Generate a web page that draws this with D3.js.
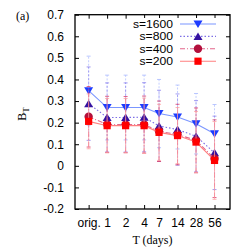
<!DOCTYPE html>
<html>
<head>
<meta charset="utf-8">
<script src="https://cdn.jsdelivr.net/npm/d3@7"></script>
<style>
    html, body { margin: 0; padding: 0; background: #ffffff; }
    svg { display: block; }
</style>
</head>
<body>
<div id="chart"></div>
<script>
(function () {
    "use strict";

    // data
    const days = [0.5, 1, 2, 4, 7, 14, 28, 56];
    const dayLabels = ["orig.", "1", "2", "4", "7", "14", "28", "56"];
    const yTicks = [-0.2, -0.1, 0, 0.1, 0.2, 0.3, 0.4, 0.5, 0.6, 0.7];

    const seriesNames = ["s=1600", "s=800", "s=400", "s=200"];
    const s1600 = [0.348, 0.270, 0.270, 0.270, 0.242, 0.226, 0.195, 0.149];
    const s800 = [0.288, 0.224, 0.224, 0.225, 0.185, 0.168, 0.137, 0.060];
    const s400 = [0.227, 0.192, 0.191, 0.191, 0.160, 0.145, 0.118, 0.033];
    const s200 = [0.206, 0.186, 0.186, 0.186, 0.155, 0.140, 0.110, 0.025];
    const e1600 = [0.160, 0.150, 0.150, 0.150, 0.158, 0.148, 0.140, 0.135];
    const e800 = [0.170, 0.160, 0.160, 0.160, 0.165, 0.165, 0.165, 0.170];
    const e400 = [0.140, 0.130, 0.130, 0.132, 0.140, 0.140, 0.150, 0.180];
    const e200 = [0.127, 0.126, 0.126, 0.128, 0.130, 0.130, 0.142, 0.180];

    const styles = [
        { line: "#7b96ff", mark: "#1d3cff", dash: null, errDash: "2,1.5", shape: "down", err: "#a9b9ff" },
        { line: "#7d6fe6", mark: "#3512a0", dash: "1.5,2", errDash: "2,2", shape: "up", err: "#8f84ee" },
        { line: "#e3668a", mark: "#b3103c", dash: "5,2,1,2", errDash: "5,2,1,2", shape: "circle", err: "#d9406e" },
        { line: "#ff7f7f", mark: "#ff0000", dash: null, errDash: null, shape: "square", err: "#ffa0a0" }
    ];

    const values = [s1600, s800, s400, s200];
    const errors = [e1600, e800, e400, e200];

    const width = 249;
    const height = 249;
    const margin = { top: 14.7, right: 19, bottom: 40, left: 75 };

    const x = d3.scaleLog()
        .domain([0.3, 100])
        .range([margin.left, width - margin.right]);

    const y = d3.scaleLinear()
        .domain([-0.2, 0.7])
        .range([height - margin.bottom, margin.top]);

    const svg = d3.select("#chart")
        .append("svg")
        .attr("width", width)
        .attr("height", height)
        .style("font-family", "'Liberation Sans', Arial, sans-serif");

    const fmt = (d) => (Math.abs(d) < 1e-9 ? "0" : d.toFixed(1));
    const tick = 4;

    // frame axes, ticks inward and mirrored
    svg.append("g")
        .attr("transform", `translate(0,${y.range()[0]})`)
        .call(d3.axisBottom(x).tickValues(days).tickFormat((d, i) => dayLabels[i]).tickSizeInner(-tick).tickSizeOuter(0).tickPadding(9))
        .call((g) => g.select(".domain").remove())
        .call((g) => g.selectAll("text").attr("font-size", 12).attr("fill", "#000").attr("font-family", null));

    svg.append("g")
        .attr("transform", `translate(0,${y.range()[1]})`)
        .call(d3.axisTop(x).tickValues(days).tickFormat("").tickSizeInner(-tick).tickSizeOuter(0))
        .call((g) => g.select(".domain").remove());

    svg.append("g")
        .attr("transform", `translate(${x.range()[0]},0)`)
        .call(d3.axisLeft(y).tickValues(yTicks).tickFormat(fmt).tickSizeInner(-tick).tickSizeOuter(0).tickPadding(11))
        .call((g) => g.select(".domain").remove())
        .call((g) => g.selectAll("text").attr("font-size", 12).attr("fill", "#000").attr("font-family", null));

    svg.append("g")
        .attr("transform", `translate(${x.range()[1]},0)`)
        .call(d3.axisRight(y).tickValues(yTicks).tickFormat("").tickSizeInner(-tick).tickSizeOuter(0))
        .call((g) => g.select(".domain").remove());

    svg.selectAll(".tick line").attr("stroke", "#000").attr("stroke-width", 1);

    svg.append("rect")
        .attr("x", x.range()[0])
        .attr("y", y.range()[1])
        .attr("width", x.range()[1] - x.range()[0])
        .attr("height", y.range()[0] - y.range()[1])
        .attr("fill", "none")
        .attr("stroke", "#000")
        .attr("stroke-width", 1.3);

    const line = d3.line()
        .x((d) => x(d.day))
        .y((d) => y(d.v));

    function marker(g, shape, color, cx, cy) {
        if (shape === "down") {
            g.append("path").attr("d", `M${cx - 4.5},${cy - 3.5}L${cx + 4.5},${cy - 3.5}L${cx},${cy + 4}Z`).attr("fill", color);
        } else if (shape === "up") {
            g.append("path").attr("d", `M${cx - 4.5},${cy + 3.5}L${cx + 4.5},${cy + 3.5}L${cx},${cy - 4}Z`).attr("fill", color);
        } else if (shape === "circle") {
            g.append("circle").attr("cx", cx).attr("cy", cy).attr("r", 4.2).attr("fill", color);
        } else {
            g.append("rect").attr("x", cx - 3.6).attr("y", cy - 3.6).attr("width", 7.2).attr("height", 7.2).attr("fill", color);
        }
    }

    const plot = svg.append("g");

    values.forEach((vals, k) => {
        const st = styles[k];
        const pts = vals.map((v, i) => ({ day: days[i], v: v, e: errors[k][i] }));
        const g = plot.append("g");

        pts.forEach((p) => {
            const cx = x(p.day);
            g.append("line")
                .attr("x1", cx).attr("x2", cx)
                .attr("y1", y(p.v - p.e)).attr("y2", y(p.v + p.e))
                .attr("stroke", st.err)
                .attr("stroke-opacity", 0.7)
                .attr("stroke-dasharray", st.errDash)
                .attr("stroke-width", 1);
            [p.v - p.e, p.v + p.e].forEach((end) => {
                g.append("line")
                    .attr("x1", cx - 2).attr("x2", cx + 2)
                    .attr("y1", y(end)).attr("y2", y(end))
                    .attr("stroke", st.err)
                    .attr("stroke-opacity", 0.8)
                    .attr("stroke-width", 1);
            });
        });

        g.append("path")
            .datum(pts)
            .attr("d", line)
            .attr("fill", "none")
            .attr("stroke", st.line)
            .attr("stroke-width", 1.1)
            .attr("stroke-dasharray", st.dash);

        pts.forEach((p) => marker(g, st.shape, st.mark, x(p.day), y(p.v)));
    });

    // legend
    const legendY = [24, 36.4, 48.8, 61.2];
    const legend = svg.append("g");
    seriesNames.forEach((name, k) => {
        const st = styles[k];
        const ly = legendY[k];
        legend.append("rect")
            .attr("x", 128).attr("y", ly - 6)
            .attr("width", 92).attr("height", 12)
            .attr("fill", "#fff");
        legend.append("text")
            .attr("x", 173)
            .attr("y", ly)
            .attr("dy", "0.35em")
            .attr("text-anchor", "end")
            .attr("font-size", 10.8)
            .attr("textLength", 40)
            .attr("lengthAdjust", "spacingAndGlyphs")
            .text(name);
        legend.append("line")
            .attr("x1", 180).attr("x2", 216)
            .attr("y1", ly).attr("y2", ly)
            .attr("stroke", st.line)
            .attr("stroke-width", 1.1)
            .attr("stroke-dasharray", st.dash);
        marker(legend, st.shape, st.mark, 198, ly);
    });
    legend.selectAll("text").filter((d, i) => i > 0).attr("textLength", 33.5);

    // titles
    svg.append("text")
        .attr("x", 16)
        .attr("y", 20)
        .attr("font-family", "'Liberation Serif', 'Times New Roman', serif")
        .attr("font-size", 12)
        .text("(a)");

    svg.append("text")
        .attr("x", (x.range()[0] + x.range()[1]) / 2)
        .attr("y", 244)
        .attr("text-anchor", "middle")
        .attr("font-family", "'Liberation Serif', 'Times New Roman', serif")
        .attr("font-size", 12)
        .text("T (days)");

    const yt = svg.append("text")
        .attr("transform", "translate(26,114) rotate(-90)")
        .attr("text-anchor", "middle")
        .attr("font-family", "'Liberation Serif', 'Times New Roman', serif")
        .attr("font-size", 12);
    yt.append("tspan").text("B");
    yt.append("tspan").attr("font-size", 9).attr("dy", 3).text("T");
})();
</script>
</body>
</html>
